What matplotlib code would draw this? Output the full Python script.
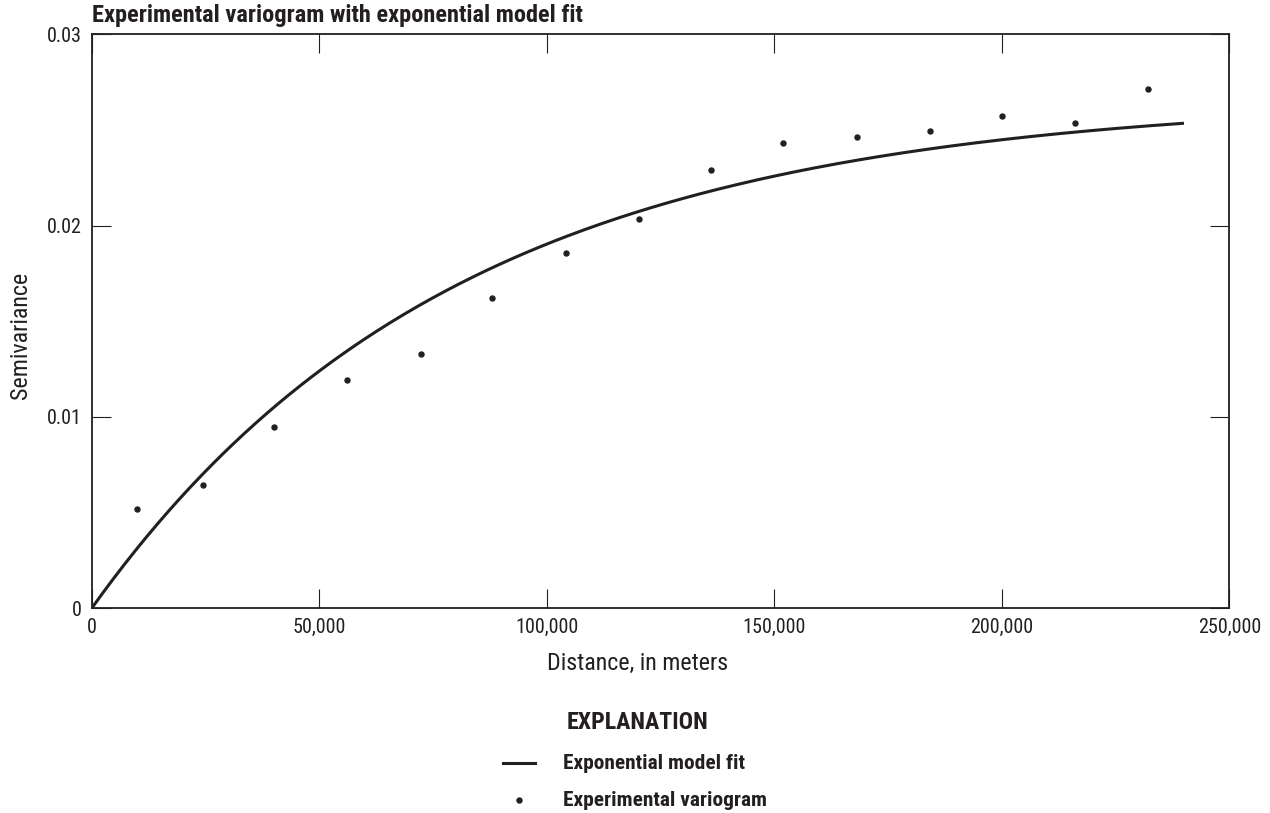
import numpy as np
import matplotlib
matplotlib.use('Agg')
import matplotlib.pyplot as plt
from matplotlib.lines import Line2D

# experimental variogram (lag distance in meters, semivariance)
distancia = [9900, 24400, 40100, 56200, 72300, 88000, 104200, 120300,
             136100, 152000, 168100, 184200, 200100, 216100, 232100]
semivarianza = [0.00519, 0.00646, 0.00948, 0.01195, 0.01329, 0.01623, 0.01857, 0.02035,
                0.02291, 0.02433, 0.02463, 0.02495, 0.02573, 0.02536, 0.02714]

# exponential model parameters
pepita = 0.0
meseta = 0.02668
rango = 80000
distancia_max_modelo = 240000

x_ticks = [0, 50000, 100000, 150000, 200000, 250000]
x_tick_labels = ['0', '50,000', '100,000', '150,000', '200,000', '250,000']
y_ticks = [0, 0.01, 0.02, 0.03]
y_tick_labels = ['0', '0.01', '0.02', '0.03']

color_texto = '#231f20'
plt.rcParams['font.family'] = ['Roboto Condensed', 'DejaVu Sans']

fig = plt.figure(figsize=(12.7, 8.13), dpi=100)
ax = fig.add_axes([0.0722, 0.2518, 0.8959, 0.7060])

h = np.linspace(0, distancia_max_modelo, 400)
gamma = pepita + (meseta - pepita) * (1 - np.exp(-h / rango))
ax.plot(h, gamma, color=color_texto, linewidth=2.2, solid_capstyle='butt', zorder=3)
ax.plot(distancia, semivarianza, linestyle='none', marker='o', markersize=3.6,
        color=color_texto, zorder=4)

ax.set_xlim(0, 250000)
ax.set_ylim(0, 0.03)
ax.set_xticks(x_ticks)
ax.set_xticklabels(x_tick_labels)
ax.set_yticks(y_ticks)
ax.set_yticklabels(y_tick_labels)
ax.tick_params(direction='in', length=13.5, width=0.8, color=color_texto,
               labelsize=14.5, labelcolor=color_texto, pad=7,
               top=True, right=True)
for s in ax.spines.values():
    s.set_linewidth(1.3)
    s.set_color(color_texto)

ax.set_title('Experimental variogram with exponential model fit', loc='left',
             fontsize=17.6, fontweight='bold', color=color_texto, pad=9)
ax.set_ylabel('Semivariance', fontsize=17.3, color=color_texto)
ax.yaxis.set_label_coords(-0.0525, 0.476)
ax.set_xlabel('Distance, in meters', fontsize=17.3, color=color_texto, va='center')
ax.xaxis.set_label_coords(0.48, -0.0953)

# explanation block
fig.text(637 / 1270, 1 - 722 / 813, 'EXPLANATION', ha='center', va='center',
         fontsize=17.2, fontweight='bold', color=color_texto)
fig.add_artist(Line2D([503 / 1270, 535 / 1270], [1 - 763 / 813] * 2,
                      color=color_texto, linewidth=2.2, transform=fig.transFigure))
fig.text(563 / 1270, 1 - 763 / 813, 'Exponential model fit', ha='left', va='center',
         fontsize=15.4, fontweight='bold', color=color_texto)
fig.add_artist(Line2D([519 / 1270], [1 - 800 / 813], marker='o', markersize=3.6,
                      linestyle='none', color=color_texto, transform=fig.transFigure))
fig.text(563 / 1270, 1 - 800 / 813, 'Experimental variogram', ha='left', va='center',
         fontsize=15.4, fontweight='bold', color=color_texto)

fig.savefig('out.png', dpi=100)
